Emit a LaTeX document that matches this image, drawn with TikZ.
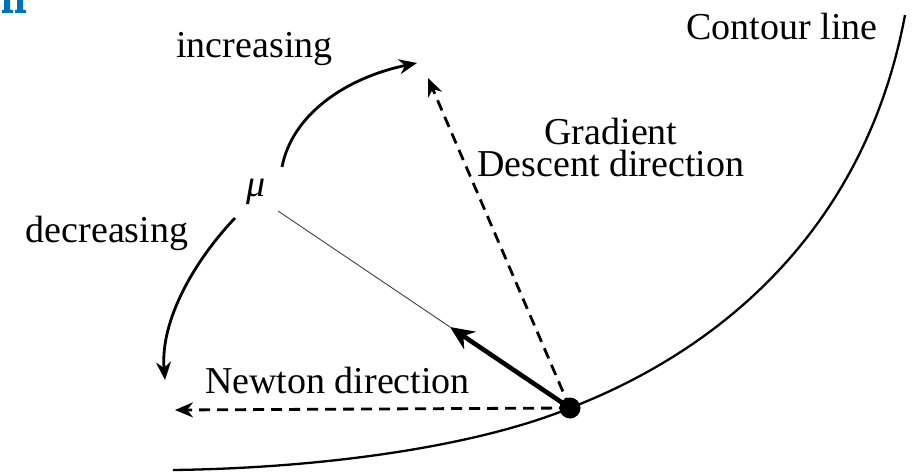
\documentclass[tikz,border=0pt]{standalone}
\usepackage{fontspec}
\setmainfont{Liberation Serif}
\usetikzlibrary{arrows.meta}
\definecolor{labelblue}{RGB}{0,112,192}
\tikzset{
  lbl/.style={font=\fontsize{38}{40}\selectfont, inner sep=0pt, anchor=base},
  arr/.style={line width=2.8pt, -{Stealth[length=18pt,width=15pt]}},
  dasharr/.style={arr, dash pattern=on 11pt off 7pt},
  thickarr/.style={line width=4.6pt, -{Stealth[length=24pt,width=21pt]}},
  contour/.style={line width=2.3pt},
  thinline/.style={line width=0.9pt, black!75}
}
\begin{document}
\begin{tikzpicture}[x=1pt,y=-1pt]
\useasboundingbox (0,0) rectangle (913,473);
% blue fragment at top-left
\fill[labelblue] (4,0) rectangle (10,11) (2,10) rectangle (13,13);
\fill[labelblue] (17,0) rectangle (23,11) (15,10) rectangle (26,13);
% contour line
\draw[contour] (173,470) .. controls (330,468) and (480,445) .. (570,408)
  .. controls (720,350) and (865,230) .. (905,15);
% point
\node[circle, fill=black, minimum size=21pt, inner sep=0pt] (p) at (570,408) {};
% end coordinates
\coordinate (newt) at (175,410);
\coordinate (grad) at (428,78);
\coordinate (mid) at (450,327);
\coordinate (dotstart) at (278,211);
\coordinate (incs) at (282,167);
\coordinate (ince) at (417,63);
\coordinate (decs) at (235,218);
\coordinate (dece) at (165,380);
% labels
\node[lbl] (cl) at (782,40) {Contour line};
\node[lbl] (inc) at (254.5,58) {increasing};
\node[lbl] (dec) at (107,243) {decreasing};
\node[font=\fontsize{38}{32}\selectfont, inner sep=0pt, align=center, anchor=south] (gd) at (611,177) {Gradient\\Descent direction};
\node[lbl] (nd) at (337.5,393) {Newton direction};
\node[lbl] (mu) at (256,197) {\itshape μ};
% connectors
\draw[dasharr] (p.center) -- (newt);
\draw[dasharr] (p.center) -- (grad);
\draw[thinline] (dotstart) -- (mid);
\draw[thickarr] (p.center) -- (mid);
\draw[arr] (incs) .. controls (292,115) and (345,78) .. (ince);
\draw[arr] (decs) .. controls (195,260) and (160,320) .. (dece);
\end{tikzpicture}
\end{document}
